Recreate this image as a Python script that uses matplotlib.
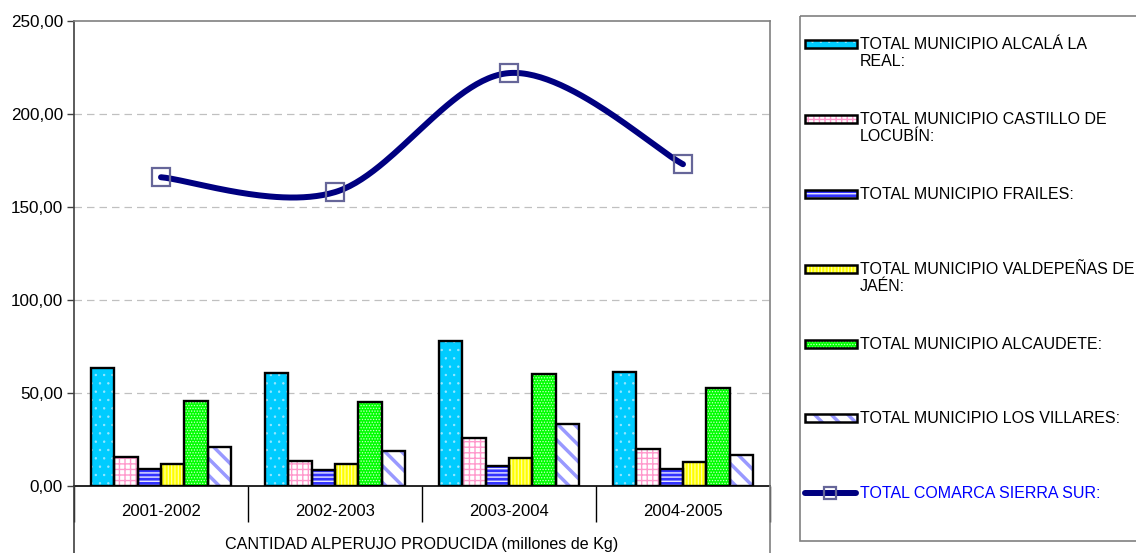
import matplotlib
matplotlib.use("Agg")
import matplotlib.pyplot as plt
import numpy as np
from matplotlib.patches import Rectangle

plt.rcParams['font.family'] = ['Liberation Sans', 'DejaVu Sans']

categories = ["2001-2002", "2002-2003", "2003-2004", "2004-2005"]
series_names = [
    "TOTAL MUNICIPIO ALCALÁ LA\nREAL:",
    "TOTAL MUNICIPIO CASTILLO DE\nLOCUBÍN:",
    "TOTAL MUNICIPIO FRAILES:",
    "TOTAL MUNICIPIO VALDEPEÑAS DE\nJAÉN:",
    "TOTAL MUNICIPIO ALCAUDETE:",
    "TOTAL MUNICIPIO LOS VILLARES:",
]
alcala = [63.4, 60.8, 78.0, 61.3]
castillo = [15.6, 13.4, 25.8, 19.9]
frailes = [9.1, 8.6, 10.8, 9.1]
valdepenas = [11.8, 11.8, 15.0, 12.9]
alcaudete = [45.7, 45.2, 60.2, 52.7]
villares = [21.0, 18.8, 33.3, 16.7]
total_name = "TOTAL COMARCA SIERRA SUR:"
total = [166.0, 158.0, 222.0, 173.0]
yticks = [0, 50, 100, 150, 200, 250]
xlabel = "CANTIDAD ALPERUJO PRODUCIDA (millones de Kg)"

series = [alcala, castillo, frailes, valdepenas, alcaudete, villares]
faces = ['#00CCFF', '#FFFFFF', '#3333FF', '#FFFF00', '#00FF00', '#FFFFFF']
hatches = ['..', '+++', '----', '|||||', '......', '\\\\']
hatchcols = ['#9AE8FF', '#FF99CC', '#FFFFFF', '#FFFFB0', '#C8FFC8', '#9999FF']
hatchlw = [0.5, 1.0, 0.9, 0.8, 0.6, 2.5]

W, H = 1136, 553
fig = plt.figure(figsize=(W / 100, H / 100), dpi=100)
L, R, T, B = 74, 770, 21, 486
ax = fig.add_axes([L / W, 1 - B / H, (R - L) / W, (B - T) / H])

x = np.arange(len(categories))
w = 0.134
for j, vals in enumerate(series):
    xs = x + (j - 2.5) * w
    with plt.rc_context({'hatch.linewidth': hatchlw[j]}):
        ax.bar(xs, vals, w, color=faces[j], hatch=hatches[j],
               edgecolor=hatchcols[j], linewidth=0, zorder=3)
    ax.bar(xs, vals, w, fill=False, edgecolor='black', linewidth=1.7, zorder=4)


def smooth(xp, yp, n=60):
    xp = np.asarray(xp, float)
    yp = np.asarray(yp, float)
    P = np.column_stack([xp, yp])
    Pe = np.vstack([P[0], P, P[-1]])
    out = []
    t = np.linspace(0, 1, n)[:, None]
    for i in range(len(P) - 1):
        p0, p3 = Pe[i + 1], Pe[i + 2]
        c1 = p0 + (Pe[i + 2] - Pe[i]) / 6
        c2 = p3 - (Pe[i + 3] - Pe[i + 1]) / 6
        seg = (1 - t) ** 3 * p0 + 3 * (1 - t) ** 2 * t * c1 + 3 * (1 - t) * t ** 2 * c2 + t ** 3 * p3
        out.append(seg)
    s = np.vstack(out)
    return s[:, 0], s[:, 1]


sx, sy = smooth(x, total)
ax.plot(sx, sy, color='#000080', lw=4.3, solid_capstyle='round', zorder=5)
ax.plot(x, total, linestyle='none', marker='s', markersize=13,
        markerfacecolor='none', markeredgecolor='#666699', markeredgewidth=1.6, zorder=6)

ax.set_xlim(-0.5, len(categories) - 0.5)
ax.set_ylim(0, 250)
ax.set_yticks(yticks)
ax.set_yticklabels([f"{v:.2f}".replace('.', ',') for v in yticks], fontsize=12.3)
ax.tick_params(axis='y', direction='out', length=5, width=1, color='#404040', pad=3)
for v in yticks[1:-1]:
    ax.axhline(v, color='#C0C0C0', lw=0.9, ls=(0, (6, 4)), zorder=1)

ax.set_xticks(np.arange(-0.5, len(categories)), labels=[])
ax.tick_params(axis='x', which='major', direction='out', length=26, width=1, color='black')
ax.set_xticks(x, minor=True)
ax.set_xticklabels(categories, minor=True, fontsize=12)
ax.tick_params(axis='x', which='minor', length=0, pad=13)

ax.spines['top'].set_color('#808080')
ax.spines['right'].set_color('#808080')
ax.spines['left'].set_color('#404040')
ax.spines['bottom'].set_color('black')
for s in ax.spines.values():
    s.set_linewidth(1.2)

# overlay in pixel coordinates
ov = fig.add_axes([0, 0, 1, 1], facecolor='none')
ov.set_xlim(0, W)
ov.set_ylim(H, 0)
ov.axis('off')
ov.plot([L, L], [B, H], color='#404040', lw=1.2)
ov.plot([R, R], [B, H], color='#808080', lw=1.2)
ov.text((L + R) / 2, 545, xlabel, ha='center', va='center', fontsize=11.6)

# legend box
ov.add_patch(Rectangle((800, 16), 340, 525, fill=False, edgecolor='#808080', lw=1.2))
ys = [44, 119, 194, 269, 344, 418]
for j, name in enumerate(series_names):
    yc = ys[j]
    with plt.rc_context({'hatch.linewidth': hatchlw[j]}):
        ov.add_patch(Rectangle((805, yc - 4), 52, 8, facecolor=faces[j], hatch=hatches[j],
                               edgecolor=hatchcols[j], lw=0))
    ov.add_patch(Rectangle((805, yc - 4), 52, 8, fill=False, edgecolor='black', lw=1.8))
    ov.text(860, yc - 7, name, ha='left', va='top', fontsize=11.5, linespacing=1.2)
yl = 493
ov.plot([805, 856], [yl, yl], color='#000080', lw=4.3, solid_capstyle='round')
ov.plot([830], [yl], marker='s', markersize=8, markerfacecolor='none',
        markeredgecolor='#666699', markeredgewidth=1.6)
ov.text(860, yl - 7, total_name, ha='left', va='top', fontsize=11.5, color='#0000FF')

fig.savefig('out.png', dpi=100)
